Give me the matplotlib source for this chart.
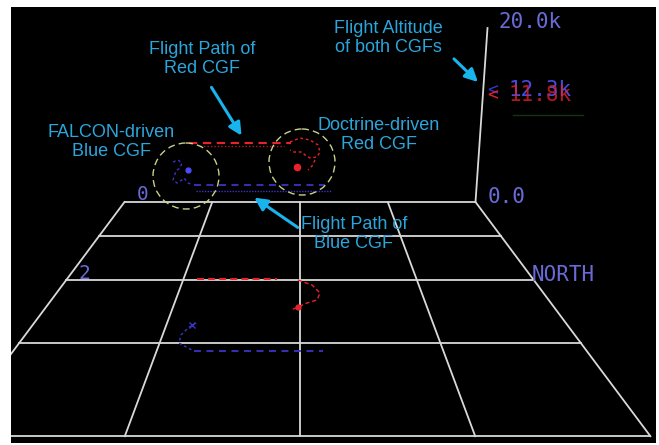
import matplotlib.pyplot as plt
from matplotlib.patches import Ellipse, FancyArrowPatch

plt.rcParams['lines.scale_dashes'] = False

# floor grid, world cells (east / north), row 0 is the far edge
east_lines = [-2, -1, 0, 1, 2]
north_lines = [0, 1, 2, 3, 4]
row_labels = {0: '0', 2: '2'}

# altitude axis
alt_max = 20000
alt_labels = ['0.0', '20.0k']
blue_alt = 12300
red_alt = 11800
blue_alt_label = '12.3k'
red_alt_label = '11.8k'

# flight paths, screen pixels
red_air_dash = ([189, 291], [143, 143])
red_air_dot = ([200, 284], [146, 146])
red_air_loop_x = [290, 300, 310, 318, 320, 317, 310, 305, 302, 293, 290]
red_air_loop_y = [142, 138, 140, 145, 152, 157, 158, 155, 152, 152, 150]
red_air_tail_x = [315, 312, 308]
red_air_tail_y = [160, 166, 170]
red_air_pos = (297, 167)

blue_air_loop_x = [173, 178, 182, 180, 176, 175, 173, 177, 182, 184, 188, 193]
blue_air_loop_y = [162, 160, 163, 168, 171, 174, 180, 183, 180, 178, 183, 185]
blue_air_dash = ([194, 325], [185, 185])
blue_air_dot = ([196, 331], [191, 191])
blue_air_pos = (188, 170)

red_gnd_dash = ([197, 277], [279, 279])
red_gnd_loop_x = [298, 312, 320, 317, 307, 298, 291]
red_gnd_loop_y = [280, 285, 293, 300, 303, 307, 310]
red_gnd_pos = (298, 307)

blue_gnd_loop_x = [196, 188, 181, 179, 188, 194]
blue_gnd_loop_y = [323, 328, 335, 343, 348, 351]
blue_gnd_dash = ([194, 323], [351, 351])
blue_gnd_pos = (192, 325)

# callouts: text, text centre, arrow tail, arrow head
callouts = [
    ('Flight Path of\nRed CGF', (202, 59), (210, 85), (243, 138)),
    ('Flight Altitude\nof both CGFs', (388, 38), (452, 57), (480, 84)),
    ('FALCON-driven\nBlue CGF', (111, 142), None, None),
    ('Doctrine-driven\nRed CGF', (379, 135), None, None),
    ('Flight Path of\nBlue CGF', (354, 234), (300, 229), (252, 196)),
]
highlight_circles = [(186, 176, 33), (302, 162, 33)]

# projection of the floor
CX, HY = 300, -33
FAR_INV, STEP, SPREAD = 1 / 235, 0.000531, 0.3734


def project(e, n):
    inv = FAR_INV - n * STEP
    return CX + e * SPREAD / inv, HY + 1 / inv


def alt_point(alt):
    bx, by = project(2, 0)
    f = alt / alt_max
    return bx + 12 * f, by - 174 * f


GRID = '#d9d9d9'
LABEL = '#6a6ad6'
CYAN_TXT = '#2ba6dc'
CYAN_ARR = '#19b4ee'
RED = '#e8222a'
BLUE = '#3a34c8'
CIRCLE = '#c9d18c'
mono = 'DejaVu Sans Mono'

fig = plt.figure(figsize=(6.59, 4.45), dpi=100, facecolor='white')
ax = fig.add_axes([11 / 659, 2 / 445, 645 / 659, 436 / 445])
ax.set_facecolor('black')
ax.set_xlim(11, 656)
ax.set_ylim(443, 7)
ax.set_xticks([])
ax.set_yticks([])
for s in ax.spines.values():
    s.set_visible(False)

# floor grid
for n in north_lines:
    (x0, y0), (x1, y1) = project(east_lines[0], n), project(east_lines[-1], n)
    ax.plot([x0, x1], [y0, y1], color=GRID, lw=1.3, zorder=2)
for e in east_lines:
    (x0, y0), (x1, y1) = project(e, north_lines[0]), project(e, north_lines[-1])
    ax.plot([x0, x1], [y0, y1], color=GRID, lw=1.3, zorder=2)
for n, lab in row_labels.items():
    x, y = project(east_lines[0], n)
    ax.text(x + 18, y - 7, lab, color=LABEL, fontsize=14, family=mono,
            ha='center', va='center', zorder=3)
nx, ny = project(east_lines[-1], 2)
ax.text(nx - 2, ny - 5, 'NORTH', color=LABEL, fontsize=15, family=mono,
        ha='left', va='center', zorder=3)

# altitude axis
b = alt_point(0)
t = alt_point(alt_max)
ax.plot([b[0], t[0]], [b[1], t[1]], color=GRID, lw=1.3, zorder=2)
ax.text(b[0] + 12, b[1] - 5, alt_labels[0], color=LABEL, fontsize=15,
        family=mono, ha='left', va='center')
ax.text(t[0] + 11, t[1] - 6, alt_labels[1], color=LABEL, fontsize=15,
        family=mono, ha='left', va='center')
bx, by = alt_point(blue_alt)
rx, ry = alt_point(red_alt)
ax.text(bx + 4, by - 5, '<', color=BLUE, fontsize=13, family=mono, ha='left', va='center')
ax.text(rx + 5, ry - 4, '<', color=RED, fontsize=13, family=mono, ha='left', va='center')
ax.text(bx + 26, by - 5, blue_alt_label, color='#4a4ae0', fontsize=15,
        family=mono, ha='left', va='center')
ax.text(rx + 26, ry - 4, red_alt_label, color=RED, fontsize=15,
        family=mono, ha='left', va='center', alpha=0.75)
ax.plot([bx + 30, bx + 100], [by + 20, by + 20], color='#143214', lw=1)

# airborne paths
ax.plot(*red_air_dash, color=RED, lw=1.5, ls=(0, (6, 4)))
ax.plot(*red_air_dot, color=RED, lw=1, ls=(0, (1, 1.5)), alpha=0.8)
ax.plot(red_air_loop_x, red_air_loop_y, color=RED, lw=1, ls=(0, (2, 2)))
ax.plot(red_air_tail_x, red_air_tail_y, color=RED, lw=1, ls=(0, (2, 2)))
ax.plot(*red_air_pos, 'o', color=RED, ms=4.5)
ax.plot(*blue_air_dash, color=BLUE, lw=1.3, ls=(0, (5, 4)))
ax.plot(*blue_air_dot, color=BLUE, lw=1, ls=(0, (1, 1)))
ax.plot(blue_air_loop_x, blue_air_loop_y, color=BLUE, lw=1, ls=(0, (2, 2)))
ax.plot(*blue_air_pos, 'o', color='#4b4bff', ms=3.5)

# ground tracks
ax.plot(*red_gnd_dash, color=RED, lw=1.5, ls=(0, (5, 3)))
ax.plot(red_gnd_loop_x, red_gnd_loop_y, color=RED, lw=1, ls=(0, (3, 2)))
ax.plot(*red_gnd_pos, 'o', color=RED, ms=3.5)
ax.plot(*blue_gnd_dash, color=BLUE, lw=1.3, ls=(0, (5, 4)))
ax.plot(blue_gnd_loop_x, blue_gnd_loop_y, color=BLUE, lw=1, ls=(0, (2, 2)))
ax.plot(*blue_gnd_pos, 'x', color=BLUE, ms=4, mew=1)

# highlight circles
for cx, cy, r in highlight_circles:
    ax.add_patch(Ellipse((cx, cy), 2 * r, 2 * r, fill=False, ec=CIRCLE,
                         lw=1, ls=(0, (5, 3)), zorder=4))

# callouts
for text, (tx, ty), tail, head in callouts:
    ax.text(tx, ty, text, color=CYAN_TXT, fontsize=13, family='Liberation Sans',
            ha='center', va='center', linespacing=1.2, zorder=5)
    if tail is not None:
        ax.add_patch(FancyArrowPatch(tail, head, arrowstyle='-|>', mutation_scale=19,
                                     lw=2.2, color=CYAN_ARR, zorder=5))

fig.savefig('out.png', dpi=100, facecolor='white')
